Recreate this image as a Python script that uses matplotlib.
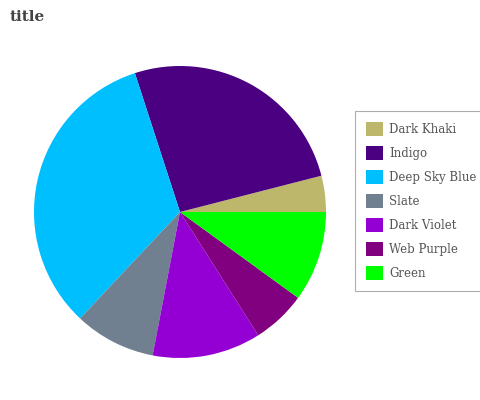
import matplotlib
matplotlib.use("Agg")
import matplotlib.pyplot as plt

labels = ["Dark Khaki", "Indigo", "Deep Sky Blue", "Slate", "Dark Violet", "Web Purple", "Green"]
values = [4, 26, 33, 9, 12, 6, 10]
colors = ["#BDB76B", "#4B0082", "#00BFFF", "#708090", "#9400D3", "#800080", "#00FF00"]

plt.rcParams["font.family"] = "DejaVu Serif"

W, H = 481, 400
fig = plt.figure(figsize=(W / 100, H / 100), dpi=100)

# pie: centre (180, 212) px, radius 146 px
cx, cy, r = 180, 212, 146
ax = fig.add_axes([(cx - r) / W, (H - cy - r) / H, 2 * r / W, 2 * r / H])
wedges, _ = ax.pie(values, colors=colors, startangle=0, counterclock=True,
                   wedgeprops=dict(linewidth=0))
ax.set_xlim(-1, 1)
ax.set_ylim(-1, 1)
ax.set_aspect("equal")
ax.axis("off")

fig.text(10 / W, 1 - 17 / H, "title", fontsize=11, fontweight="bold",
         color="#444444", va="center", ha="left")

leg = fig.legend(wedges, labels, loc="upper left",
                 bbox_to_anchor=(355 / W, 1 - 111 / H),
                 fontsize=8.5, frameon=True, fancybox=False,
                 edgecolor="#999999", handlelength=1.45, handleheight=1.45,
                 labelspacing=0.85, borderpad=0.9, handletextpad=0.55,
                 borderaxespad=0)
leg.get_frame().set_linewidth(0.8)
for t in leg.get_texts():
    t.set_color("#555555")

fig.savefig("out.png", dpi=100, facecolor="white")
